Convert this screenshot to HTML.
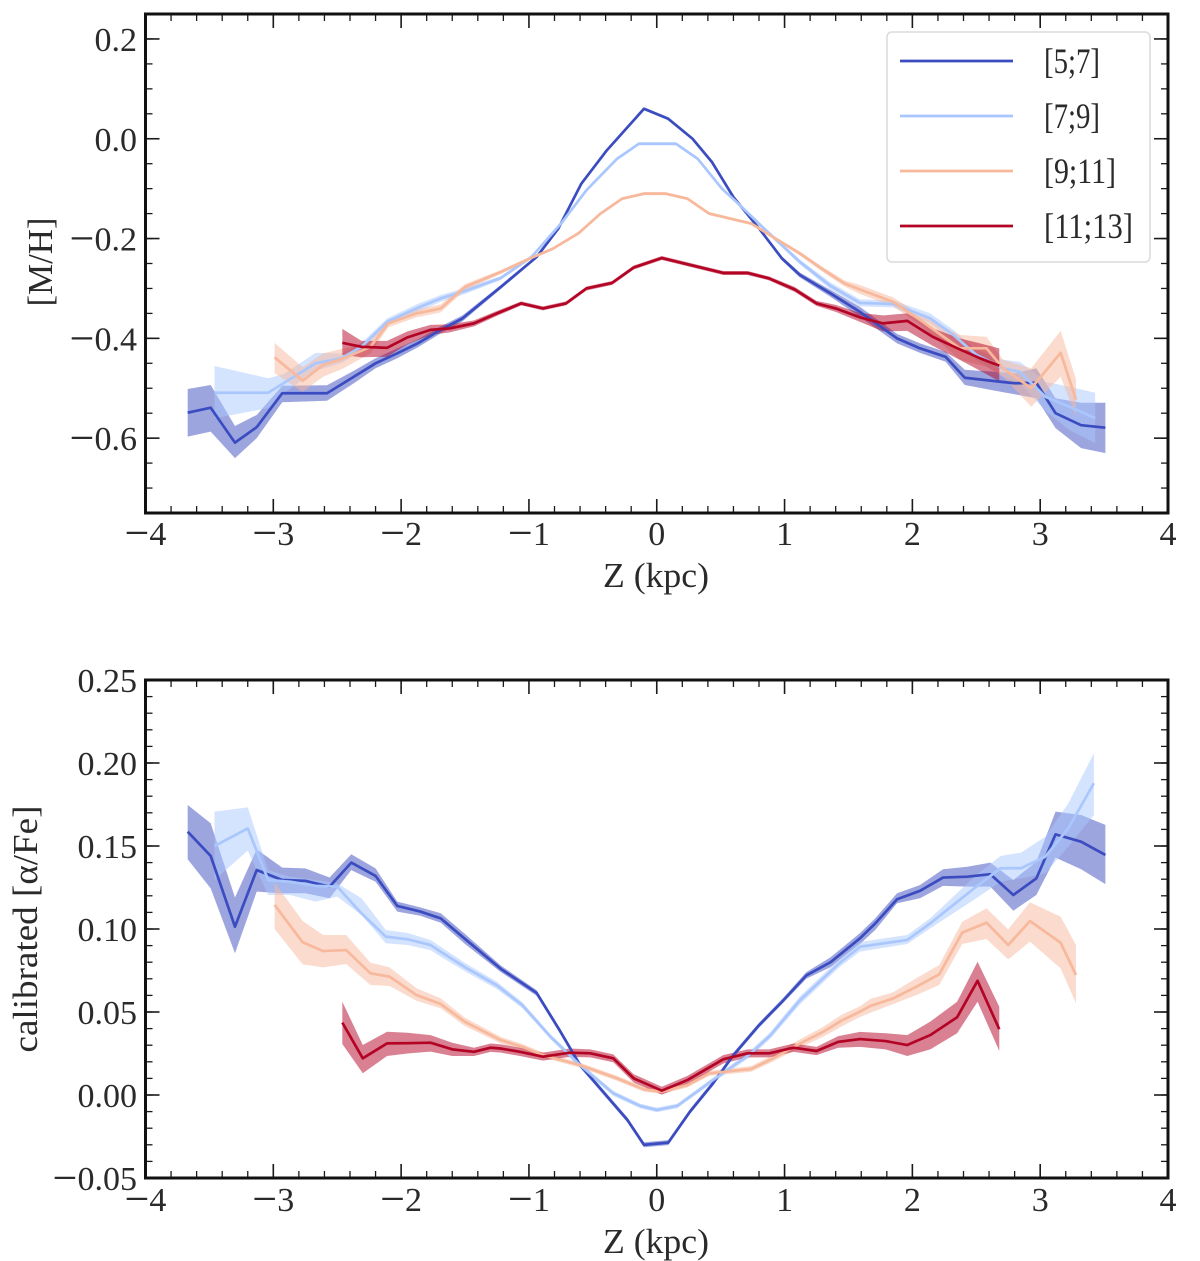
<!DOCTYPE html>
<html>
<head>
<meta charset="utf-8">
<title>Metallicity and alpha abundance profiles versus Z</title>
<style>
html,body{margin:0;padding:0;background:#fff;}
svg{display:block;font-family:"Liberation Serif",serif;}
text{fill:#2a2a2a;}
</style>
</head>
<body>
<svg id="chart" width="1200" height="1261" viewBox="0 0 1200 1261" xmlns="http://www.w3.org/2000/svg">
  <rect x="0" y="0" width="1200" height="1261" fill="#fff"/>
  <g id="panelTop"></g>
  <g id="panelBottom"></g>
  <text x="656" y="587" font-size="35" text-anchor="middle" textLength="106" lengthAdjust="spacingAndGlyphs">Z (kpc)</text>
  <text x="656" y="1253" font-size="35" text-anchor="middle" textLength="106" lengthAdjust="spacingAndGlyphs">Z (kpc)</text>
  <text transform="translate(52,262) rotate(-90)" font-size="35" text-anchor="middle" textLength="89" lengthAdjust="spacingAndGlyphs">[M/H]</text>
  <text transform="translate(37,929) rotate(-90)" font-size="35" text-anchor="middle" textLength="247" lengthAdjust="spacingAndGlyphs">calibrated [α/Fe]</text>
  <g>
    <rect x="887" y="32" width="263" height="230" rx="5" ry="5" fill="#fff" fill-opacity="0.8" stroke="#dcdcdc" stroke-width="1.6"/>
    <line x1="900" x2="1013" y1="61" y2="61" stroke="#3b4cc0" stroke-width="2.7"/>
    <text x="1044" y="73" font-size="36" textLength="56" lengthAdjust="spacingAndGlyphs">[5;7]</text>
    <line x1="900" x2="1013" y1="116" y2="116" stroke="#aac7fd" stroke-width="2.7"/>
    <text x="1044" y="128" font-size="36" textLength="56" lengthAdjust="spacingAndGlyphs">[7;9]</text>
    <line x1="900" x2="1013" y1="171" y2="171" stroke="#f7b89c" stroke-width="2.7"/>
    <text x="1044" y="183" font-size="36" textLength="72" lengthAdjust="spacingAndGlyphs">[9;11]</text>
    <line x1="900" x2="1013" y1="226" y2="226" stroke="#b40426" stroke-width="2.7"/>
    <text x="1044" y="238" font-size="36" textLength="89" lengthAdjust="spacingAndGlyphs">[11;13]</text>
  </g>
</svg>
<script>
// ---- tick labels ----
const xTickValues = [-4,-3,-2,-1,0,1,2,3,4];
const xTickLabels = ['−4','−3','−2','−1','0','1','2','3','4'];
const topYTickValues = [0.2,0,-0.2,-0.4,-0.6];
const topYTickLabels = ['0.2','0.0','−0.2','−0.4','−0.6'];
const bottomYTickValues = [0.25,0.2,0.15,0.1,0.05,0,-0.05];
const bottomYTickLabels = ['0.25','0.20','0.15','0.10','0.05','0.00','−0.05'];
const seriesNames = ['5-7','7-9','9-11','11-13'];

// ---- top panel [M/H] ----
const mhZ1 = [-3.67,-3.49,-3.30,-3.13,-2.93,-2.58,-2.37,-2.20,-2.03,-1.87,-1.69,-1.52,-1.22,-0.94,-0.77,-0.59,-0.39,-0.10,0.09,0.28,0.43,0.60,0.81,0.98,1.12,1.36,1.59,1.88,2.06,2.26,2.41,2.69,2.80,2.97,3.12,3.32,3.51];
const mhY1 = [-0.549,-0.539,-0.609,-0.578,-0.510,-0.510,-0.477,-0.450,-0.430,-0.410,-0.383,-0.360,-0.297,-0.237,-0.180,-0.090,-0.023,0.060,0.040,0.000,-0.046,-0.117,-0.183,-0.240,-0.273,-0.310,-0.347,-0.400,-0.420,-0.437,-0.479,-0.487,-0.490,-0.489,-0.550,-0.574,-0.579];
const mhHi1 = [-0.5015,-0.4935,-0.5756,-0.5535,-0.495,-0.494,-0.465,-0.440,-0.420,-0.402,-0.376,-0.354,-0.293,-0.234,-0.177,-0.087,-0.020,0.063,0.043,0.003,-0.043,-0.114,-0.180,-0.236,-0.268,-0.303,-0.337,-0.391,-0.410,-0.427,-0.463,-0.468,-0.470,-0.460,-0.520,-0.529,-0.529];
const mhLo1 = [-0.597,-0.587,-0.640,-0.600,-0.528,-0.525,-0.490,-0.460,-0.440,-0.418,-0.390,-0.366,-0.301,-0.240,-0.183,-0.093,-0.026,0.057,0.037,-0.003,-0.049,-0.120,-0.186,-0.244,-0.278,-0.317,-0.357,-0.410,-0.429,-0.447,-0.4935,-0.507,-0.512,-0.520,-0.580,-0.620,-0.630];

const mhZ2 = [-3.46,-3.04,-2.92,-2.67,-2.47,-2.31,-2.11,-1.88,-1.69,-1.50,-1.22,-0.98,-0.74,-0.55,-0.31,-0.14,0.15,0.32,0.51,0.65,0.84,1.12,1.36,1.59,1.72,1.85,2.14,2.32,2.50,2.71,2.84,3.04,3.23,3.43];
const mhY2 = [-0.509,-0.509,-0.490,-0.450,-0.440,-0.417,-0.367,-0.340,-0.320,-0.305,-0.279,-0.237,-0.167,-0.103,-0.040,-0.010,-0.010,-0.040,-0.100,-0.133,-0.180,-0.247,-0.295,-0.329,-0.330,-0.331,-0.360,-0.393,-0.433,-0.460,-0.467,-0.517,-0.537,-0.560];
const mhHi2 = [-0.4555,-0.480,-0.472,-0.429,-0.430,-0.409,-0.360,-0.332,-0.313,-0.299,-0.275,-0.234,-0.164,-0.100,-0.037,-0.007,-0.007,-0.037,-0.097,-0.130,-0.176,-0.242,-0.288,-0.322,-0.323,-0.324,-0.350,-0.383,-0.423,-0.443,-0.447,-0.487,-0.497,-0.509];
const mhLo2 = [-0.560,-0.540,-0.510,-0.465,-0.450,-0.425,-0.374,-0.348,-0.327,-0.311,-0.283,-0.240,-0.170,-0.106,-0.043,-0.013,-0.013,-0.043,-0.103,-0.136,-0.184,-0.252,-0.302,-0.336,-0.337,-0.338,-0.370,-0.403,-0.443,-0.477,-0.490,-0.545,-0.584,-0.610];

const mhZ3 = [-2.99,-2.77,-2.61,-2.45,-2.24,-2.10,-1.88,-1.69,-1.50,-1.22,-1.02,-0.81,-0.61,-0.44,-0.27,-0.10,0.07,0.24,0.41,0.74,0.91,1.12,1.30,1.47,1.59,1.85,2.06,2.37,2.58,2.71,2.93,3.16,3.28];
const mhY3 = [-0.438,-0.485,-0.453,-0.440,-0.417,-0.370,-0.350,-0.340,-0.297,-0.267,-0.243,-0.220,-0.189,-0.150,-0.120,-0.110,-0.110,-0.120,-0.150,-0.170,-0.197,-0.230,-0.262,-0.290,-0.302,-0.327,-0.363,-0.420,-0.420,-0.460,-0.500,-0.429,-0.523];
const mhHi3 = [-0.409,-0.458,-0.430,-0.420,-0.405,-0.362,-0.342,-0.332,-0.291,-0.263,-0.240,-0.217,-0.186,-0.147,-0.117,-0.107,-0.107,-0.117,-0.147,-0.167,-0.194,-0.226,-0.257,-0.284,-0.293,-0.318,-0.353,-0.393,-0.397,-0.443,-0.460,-0.385,-0.482];
const mhLo3 = [-0.470,-0.507,-0.477,-0.460,-0.430,-0.378,-0.358,-0.348,-0.303,-0.271,-0.246,-0.223,-0.192,-0.153,-0.123,-0.113,-0.113,-0.123,-0.153,-0.173,-0.200,-0.234,-0.267,-0.296,-0.311,-0.336,-0.373,-0.443,-0.457,-0.477,-0.537,-0.477,-0.557];

const mhZ4 = [-2.46,-2.31,-2.11,-1.95,-1.77,-1.62,-1.43,-1.25,-1.06,-0.89,-0.71,-0.55,-0.35,-0.18,0.04,0.52,0.71,0.88,1.08,1.25,1.40,1.59,1.77,1.96,2.16,2.37,2.53,2.68];
const mhY4 = [-0.409,-0.417,-0.419,-0.398,-0.383,-0.380,-0.370,-0.350,-0.330,-0.340,-0.330,-0.300,-0.289,-0.258,-0.239,-0.269,-0.269,-0.280,-0.302,-0.330,-0.340,-0.358,-0.370,-0.365,-0.397,-0.422,-0.440,-0.455];
const mhHi4 = [-0.381,-0.405,-0.405,-0.386,-0.373,-0.372,-0.364,-0.345,-0.326,-0.336,-0.326,-0.296,-0.285,-0.254,-0.235,-0.265,-0.265,-0.276,-0.297,-0.325,-0.333,-0.349,-0.354,-0.350,-0.380,-0.400,-0.410,-0.420];
const mhLo4 = [-0.433,-0.438,-0.437,-0.412,-0.393,-0.388,-0.376,-0.355,-0.334,-0.344,-0.334,-0.304,-0.293,-0.262,-0.243,-0.273,-0.273,-0.284,-0.307,-0.335,-0.347,-0.367,-0.386,-0.385,-0.415,-0.443,-0.465,-0.486];

// ---- bottom panel [alpha/Fe] ----
const afZ1 = [-3.67,-3.49,-3.30,-3.13,-2.93,-2.75,-2.56,-2.39,-2.20,-2.03,-1.85,-1.69,-1.50,-1.22,-0.94,-0.76,-0.60,-0.23,-0.10,0.09,0.26,0.44,0.60,0.80,0.99,1.17,1.36,1.59,1.71,1.88,2.06,2.24,2.43,2.61,2.79,2.97,3.12,3.32,3.51];
const afY1 = [.1586,.144,.1014,.1355,.1295,.129,.1255,.14,.132,.1139,.1105,.1064,.094,.076,.0615,.039,.018,-.015,-.03,-.0287,-.01,.007,.024,.042,.057,.072,.080,.0944,.1034,.1179,.123,.131,.1315,.133,.1205,.1305,.157,.1526,.1446];
const afHi1 = [.1747,.1637,.119,.148,.137,.1365,.131,.145,.1365,.1165,.113,.1095,.097,.078,.0632,.0405,.0195,-.0135,-.0285,-.0272,-.0085,.0085,.0255,.0435,.0585,.074,.083,.0975,.1065,.1215,.1265,.136,.1375,.14,.1295,.1405,.1707,.1687,.1627];
const afLo1 = [.142,.1245,.0854,.1225,.1215,.1215,.1185,.1355,.1285,.1105,.108,.1038,.091,.074,.0598,.0375,.0165,-.0165,-.0315,-.0302,-.0115,.0055,.0225,.0405,.0555,.070,.077,.091,.0995,.1155,.1185,.126,.1255,.1255,.111,.1205,.143,.136,.127];

const afZ2 = [-3.46,-3.20,-3.04,-2.87,-2.67,-2.50,-2.31,-2.12,-1.95,-1.77,-1.69,-1.50,-1.25,-1.05,-0.83,-0.60,-0.34,-0.13,0,0.16,0.44,0.72,0.89,1.12,1.43,1.59,1.96,2.14,2.32,2.50,2.69,2.85,3.04,3.22,3.42];
const afY2 = [.15,.1606,.1295,.1285,.126,.1255,.1094,.0954,.0938,.0904,.0863,.077,.066,.054,.035,.018,.001,-.0066,-.009,-.0066,.009,.024,.036,.057,.0795,.0893,.0934,.1034,.1145,.1255,.1366,.1366,.1436,.1607,.1878];
const afHi2 = [.1707,.1733,.1355,.1315,.1295,.1275,.1185,.0994,.0976,.0934,.0893,.0795,.0682,.0558,.0365,.0195,.0025,-.0052,-.0076,-.0052,.0105,.0258,.038,.0595,.082,.0922,.0964,.1065,.1195,.1325,.144,.146,.1556,.1757,.2058];
const afLo2 = [.1295,.1472,.1205,.1205,.1165,.1195,.1084,.0914,.0904,.0873,.0833,.0745,.0638,.0522,.0335,.0165,-.0005,-.008,-.0104,-.008,.0075,.0222,.034,.0545,.077,.0864,.091,.1004,.1095,.1185,.1285,.1305,.1335,.1496,.1687];

const afZ3 = [-2.99,-2.77,-2.61,-2.43,-2.24,-2.09,-1.88,-1.69,-1.50,-1.22,-1.05,-0.89,-0.60,-0.31,-0.10,0.04,0.24,0.41,0.74,0.91,1.12,1.30,1.45,1.59,1.67,1.85,2.03,2.21,2.39,2.58,2.75,2.92,3.16,3.28];
const afY3 = [.1145,.092,.0867,.0873,.0733,.0713,.0602,.0548,.044,.033,.029,.024,.018,.01,.0034,.002,.006,.013,.0157,.0221,.031,.038,.045,.0502,.0536,.0582,.0652,.0727,.0978,.1038,.0904,.1048,.0917,.0723];
const afHi3 = [.1279,.1048,.0964,.0964,.0797,.0769,.0643,.0582,.0465,.0350,.0307,.0255,.0195,.0115,.005,.0035,.0075,.0145,.0175,.024,.0335,.041,.0485,.0535,.0578,.0619,.0703,.0783,.1044,.1124,.0998,.1161,.1074,.0904];
const afLo3 = [.1,.0787,.0769,.0789,.0663,.0657,.0568,.0522,.0415,.031,.0273,.0225,.0165,.0085,.002,.0005,.0045,.0115,.014,.0202,.0285,.035,.0415,.047,.0495,.0548,.0602,.0663,.091,.094,.0817,.0924,.0763,.0552];

const afZ4 = [-2.46,-2.30,-2.11,-1.95,-1.77,-1.60,-1.43,-1.30,-1.22,-1.07,-0.89,-0.68,-0.52,-0.34,-0.18,0.04,0.24,0.52,0.71,0.88,1.07,1.25,1.42,1.59,1.79,1.96,2.14,2.35,2.51,2.68];
const afY4 = [.0436,.0221,.0311,.0312,.0315,.0275,.026,.0285,.028,.026,.0231,.0255,.0251,.0221,.01,.0026,.009,.0215,.0251,.0251,.0285,.0265,.032,.0337,.0325,.0301,.0361,.0468,.0688,.0396];
const afHi4 = [.0562,.0301,.0381,.0375,.0361,.0315,.0285,.031,.0305,.0285,.0255,.028,.0275,.0245,.0125,.005,.0115,.024,.0275,.0275,.031,.029,.0355,.038,.0372,.0361,.0442,.0562,.0803,.0532];
const afLo4 = [.0307,.0131,.0235,.025,.0261,.0235,.0235,.026,.0255,.0235,.0207,.023,.0227,.0197,.0075,.0002,.0065,.019,.0227,.0227,.026,.024,.0285,.029,.0275,.0235,.0275,.0372,.0562,.0265];

const seriesColors = ['#3b4cc0','#aac7fd','#f7b89c','#b40426'];
const NS = 'http://www.w3.org/2000/svg';
const LEFT = 145.5, RIGHT = 1168;

function xScale(v){ return LEFT + (v + 4) / 8 * (RIGHT - LEFT); }
function yScaleTop(v){ return 14 + (0.25 - v) / 1.0 * 499; }
function yScaleBottom(v){ return 680 + (0.25 - v) / 0.30 * 498; }

function mk(tag, parent){
  const e = document.createElementNS(NS, tag);
  parent.appendChild(e);
  return e;
}
function tick(parent, x1, y1, x2, y2, width){
  const t = mk('line', parent);
  t.setAttribute('x1', x1);
  t.setAttribute('y1', y1);
  t.setAttribute('x2', x2);
  t.setAttribute('y2', y2);
  t.setAttribute('stroke', '#1a1a1a');
  t.setAttribute('stroke-width', width);
  
  
}
function tickLabel(parent, str, x, y, anchor){
  const t = mk('text', parent);
  t.setAttribute('x', x);
  t.setAttribute('y', y);
  t.setAttribute('font-size', '34');
  t.setAttribute('text-anchor', anchor);
  
  
  if (str.charAt(0) === '−') {
    const sign = mk('tspan', t);
    sign.setAttribute('font-size', '44');
    sign.setAttribute('dy', '2.5');
    sign.textContent = '−';
    const rest = mk('tspan', t);
    rest.setAttribute('dy', '-2.5');
    rest.textContent = str.slice(1);
  } else {
    t.textContent = str;
  }
}
function pathFrom(xs, ys, xf, yf){
  return xs.map(function(x, i){ return (i ? 'L' : 'M') + xf(x).toFixed(2) + ' ' + yf(ys[i]).toFixed(2); }).join(' ');
}
function bandPath(xs, lo, hi, xf, yf){
  const up = pathFrom(xs, hi, xf, yf);
  const revX = xs.slice().reverse();
  const revY = lo.slice().reverse();
  const down = revX.map(function(x, i){ return 'L' + xf(x).toFixed(2) + ' ' + yf(revY[i]).toFixed(2); }).join(' ');
  return up + ' ' + down + ' Z';
}
function drawPanel(g, yf, top, bottom, yMin, yMax, yMinorStep, yVals, yLabs, series, xLabelBaseline){
  series.forEach(function(s, i){
    const band = mk('path', g);
    band.setAttribute('d', bandPath(s[0], s[2], s[3], xScale, yf));
    band.setAttribute('fill', seriesColors[i]);
    band.setAttribute('fill-opacity', '0.5');
    band.setAttribute('stroke', 'none');
    
    
  });
  series.forEach(function(s, i){
    const line = mk('path', g);
    line.setAttribute('d', pathFrom(s[0], s[1], xScale, yf));
    line.setAttribute('fill', 'none');
    line.setAttribute('stroke', seriesColors[i]);
    line.setAttribute('stroke-width', '2.7');
    line.setAttribute('stroke-linejoin', 'round');
    
    
  });
  // x ticks (minor every 0.2, major every 1)
  for (let k = -20; k <= 20; k++) {
    const v = k / 5;
    const major = k % 5 === 0;
    const len = major ? 14 : 7;
    const w = major ? 1.6 : 1.3;
    const px = xScale(v);
    tick(g, px, bottom, px, bottom - len, w);
    tick(g, px, top, px, top + len, w);
  }
  // y minor ticks
  const nMinor = Math.round((yMax - yMin) / yMinorStep);
  for (let k = 0; k <= nMinor; k++) {
    const v = yMin + k * yMinorStep;
    const py = yf(v);
    tick(g, LEFT, py, LEFT + 7, py, 1.3);
    tick(g, RIGHT, py, RIGHT - 7, py, 1.3);
  }
  yVals.forEach(function(v, i){
    const py = yf(v);
    tick(g, LEFT, py, LEFT + 14, py, 1.6);
    tick(g, RIGHT, py, RIGHT - 14, py, 1.6);
    tickLabel(g, yLabs[i], 137, py + 12, 'end');
  });
  xTickValues.forEach(function(v, i){
    tickLabel(g, xTickLabels[i], xScale(v), xLabelBaseline, 'middle');
  });
  const frame = mk('rect', g);
  frame.setAttribute('x', LEFT);
  frame.setAttribute('y', top);
  frame.setAttribute('width', RIGHT - LEFT);
  frame.setAttribute('height', bottom - top);
  frame.setAttribute('fill', 'none');
  frame.setAttribute('stroke', '#111');
  frame.setAttribute('stroke-width', '3');
  
  
}

drawPanel(document.getElementById('panelTop'), yScaleTop, 14, 513, -0.75, 0.25, 0.05,
  topYTickValues, topYTickLabels,
  [[mhZ1,mhY1,mhLo1,mhHi1],[mhZ2,mhY2,mhLo2,mhHi2],[mhZ3,mhY3,mhLo3,mhHi3],[mhZ4,mhY4,mhLo4,mhHi4]], 545);
drawPanel(document.getElementById('panelBottom'), yScaleBottom, 680, 1178, -0.05, 0.25, 0.01,
  bottomYTickValues, bottomYTickLabels,
  [[afZ1,afY1,afLo1,afHi1],[afZ2,afY2,afLo2,afHi2],[afZ3,afY3,afLo3,afHi3],[afZ4,afY4,afLo4,afHi4]], 1211);
</script>
</body>
</html>
